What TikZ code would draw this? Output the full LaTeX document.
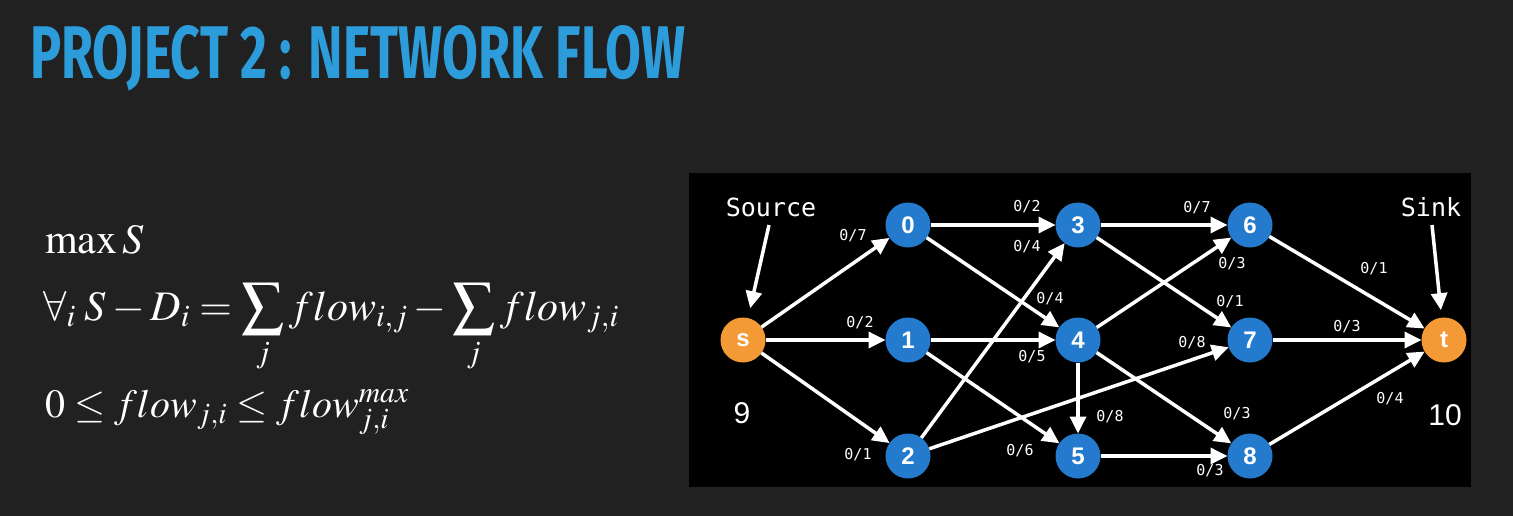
\documentclass[tikz,border=0pt]{standalone}
\usepackage{mathptmx}
\usepackage[no-math]{fontspec}
\usepackage{graphicx}
\usetikzlibrary{arrows.meta}
\newfontfamily\titlefont{Fira Sans}
\newfontfamily\codefont{DejaVu Sans Mono}
\newfontfamily\helvfont{Liberation Sans}
\definecolor{slidebg}{HTML}{212121}
\definecolor{titleblue}{HTML}{2D9CDB}
\definecolor{nodeblue}{HTML}{247BCD}
\definecolor{nodeorange}{HTML}{F39A37}
\begin{document}
\begin{tikzpicture}[x=1pt,y=-1pt,
  vtx/.style={circle,fill=nodeblue,minimum size=45pt,inner sep=0pt,outer sep=0pt,
    text=white,font=\helvfont\bfseries\fontsize{24}{24}\selectfont},
  term/.style={vtx,fill=nodeorange},
  flowarrow/.style={draw=white,line width=3.5pt,-{Triangle[length=17pt,width=16pt]}},
  caplabel/.style={text=white,inner sep=0pt,font=\codefont\fontsize{15}{15}\selectfont},
  bigmono/.style={text=white,inner sep=0pt,font=\codefont\fontsize{25}{25}\selectfont},
  supply/.style={text=white,inner sep=0pt,font=\helvfont\fontsize{30}{30}\selectfont},
  formula/.style={anchor=base west,inner sep=0pt,text=white,font=\fontsize{42}{50}\selectfont},
]
% slide background and graph panel
\fill[slidebg] (0,0) rectangle (1513,516);
\useasboundingbox (0,0) rectangle (1513,516);
\fill[black] (689,173) rectangle (1471,487);

% title
\node[anchor=north west,inner sep=0pt,text=titleblue] (title) at (30,25)
  {\resizebox{655pt}{53pt}{\titlefont\bfseries PROJECT 2 : NETWORK FLOW}};

% model
\node[formula] (objective) at (45,253) {$\max S$};
\node[formula] (balance) at (43,320)
  {$\displaystyle \forall_i\; S - D_i = \sum_j flow_{i,j} - \sum_j flow_{j,i}$};
\node[formula,font=\fontsize{40}{48}\selectfont] (bounds) at (45,417)
  {$0 \le flow_{j,i} \le flow_{j,i}^{max}$};

% vertices
\node[term] (s) at (743,340) {s};
\node[vtx] (n0) at (908,225) {0};
\node[vtx] (n1) at (908,340) {1};
\node[vtx] (n2) at (908,456) {2};
\node[vtx] (n3) at (1078,225) {3};
\node[vtx] (n4) at (1078,340) {4};
\node[vtx] (n5) at (1078,456) {5};
\node[vtx] (n6) at (1250,225) {6};
\node[vtx] (n7) at (1250,340) {7};
\node[vtx] (n8) at (1250,456) {8};
\node[term] (t) at (1444,340) {t};

% edges
\foreach \a/\b in {s/n0,s/n1,s/n2,n0/n3,n0/n4,n1/n4,n1/n5,n2/n3,n2/n7,
                   n3/n6,n3/n7,n4/n6,n4/n5,n4/n8,n5/n8,n6/t,n7/t,n8/t}
  \draw[flowarrow] (\a) -- (\b);

% capacities
\node[caplabel] (c-s0) at (853,236) {0/7};
\node[caplabel] (c-s1) at (860,323) {0/2};
\node[caplabel] (c-s2) at (858,455) {0/1};
\node[caplabel] (c-03) at (1027,207) {0/2};
\node[caplabel] (c-23) at (1027,247) {0/4};
\node[caplabel] (c-04) at (1050,299) {0/4};
\node[caplabel] (c-14) at (1032,357) {0/5};
\node[caplabel] (c-15) at (1020,451) {0/6};
\node[caplabel] (c-45) at (1110,417) {0/8};
\node[caplabel] (c-36) at (1197,208) {0/7};
\node[caplabel] (c-46) at (1232,264) {0/3};
\node[caplabel] (c-37) at (1230,302) {0/1};
\node[caplabel] (c-27) at (1192,343) {0/8};
\node[caplabel] (c-48) at (1237,414) {0/3};
\node[caplabel] (c-58) at (1210,471) {0/3};
\node[caplabel] (c-6t) at (1374,269) {0/1};
\node[caplabel] (c-7t) at (1347,327) {0/3};
\node[caplabel] (c-8t) at (1390,399) {0/4};

% source and sink
\node[bigmono] (srctext) at (771,207) {Source};
\coordinate (srcfrom) at (769,225);
\draw[flowarrow,shorten >=10pt] (srcfrom) -- (s);
\node[bigmono] (sinktext) at (1431,207) {Sink};
\coordinate (sinkfrom) at (1432,225);
\draw[flowarrow,shorten >=7.5pt] (sinkfrom) -- (t);

\node[supply] (ssupply) at (742,413) {9};
\node[supply] (tdemand) at (1445,415) {10};
\end{tikzpicture}
\end{document}
